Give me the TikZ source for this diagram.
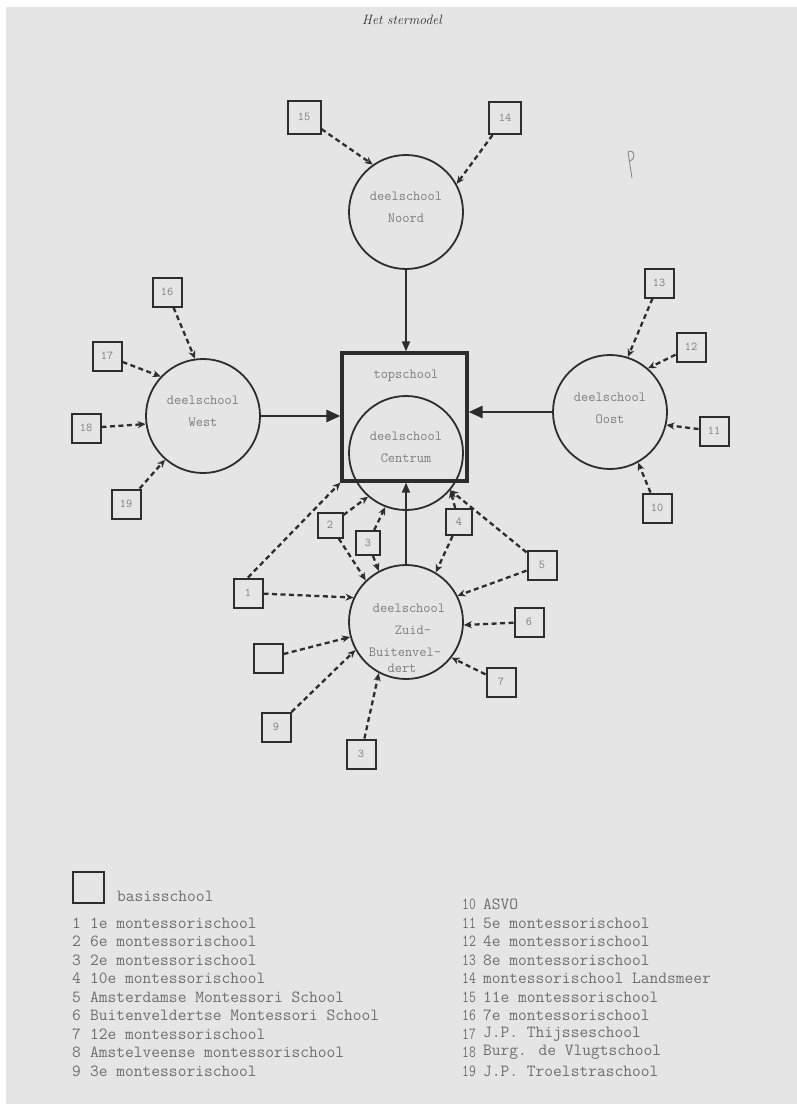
\documentclass[tikz,border=0pt]{standalone}
\usetikzlibrary{arrows.meta,calc}
\definecolor{pagebg}{RGB}{229,229,229}
\definecolor{ink}{RGB}{45,45,45}
\definecolor{txt}{RGB}{125,125,125}
\definecolor{legtxt}{RGB}{110,110,110}
\begin{document}
\begin{tikzpicture}[x=1pt,y=-1pt,
  deel/.style={circle,draw=ink,line width=1.8pt,minimum size=114pt,inner sep=0pt},
  basis/.style={rectangle,draw=ink,line width=2pt,minimum size=29pt,inner sep=0pt,font=\ttfamily\fontsize{12}{12}\selectfont,text=txt},
  dep/.style={draw=ink,line width=2.3pt,dash pattern=on 5pt off 3.5pt,-{Stealth[length=8pt,width=7pt]}},
  mainthin/.style={draw=ink,line width=1.6pt,-{Triangle[length=10pt,width=8pt]}},
  mainthick/.style={draw=ink,line width=2.6pt,-{Triangle[length=14pt,width=12pt]}},
  lbl/.style={font=\ttfamily\fontsize{14}{22}\selectfont,text=txt,align=center,inner sep=0pt},
  leg/.style={font=\ttfamily\fontsize{17}{18}\selectfont,text=legtxt,anchor=west,inner sep=0pt},
]
% page
\useasboundingbox (0,0) rectangle (797,1104);
\fill[white] (0,0) rectangle (797,1104);
\fill[pagebg] (6,7) rectangle (797,1104);

% title
\node[font=\itshape\fontsize{13.5}{15}\selectfont,text=ink] (title) at (402,20) {Het stermodel};

% pencil mark
\draw[gray,line width=0.8pt] (628,152) -- (632,178);
\draw[gray,line width=0.8pt] (628,152) .. controls (634,148) and (637,158) .. (630,161);

% main nodes
\node[rectangle,draw=ink,line width=3.2pt,minimum width=125pt,minimum height=128pt,inner sep=0pt] (top) at (404.5,417) {};
\node[lbl] (toptxt) at (406,376) {topschool};
\node[deel] (centrum) at (406,453) {};
\node[lbl] (centrumtxt) at (406,447) {deelschool\\Centrum};
\node[deel] (noord) at (406,212) {};
\node[lbl] (noordtxt) at (406,207.5) {deelschool\\Noord};
\node[deel] (west) at (203,416) {};
\node[lbl] (westtxt) at (203,411.5) {deelschool\\West};
\node[deel] (oost) at (610,412) {};
\node[lbl] (oosttxt) at (610,408) {deelschool\\Oost};
\node[deel] (zuid) at (406,622) {};
\node[lbl] (zuid1) at (409,608) {deelschool};
\node[lbl] (zuid2) at (413,630) {Zuid-};
\node[lbl] (zuid3) at (405,652) {Buitenvel-};
\node[lbl] (zuid4) at (402,668) {dert};

% main arrows
\draw[mainthin] (noord.south) -- (noord.south |- top.north);
\draw[mainthin] (zuid.north) -- (zuid.north |- top.south);
\draw[mainthick] (west.east) -- (west.east -| top.west);
\draw[mainthick] (oost.west) -- (oost.west -| top.east);

% basisscholen
\node[basis,minimum size=33pt] (b15) at (304,117) {15};
\node[basis,minimum size=32pt] (b14) at (505,118) {14};
\node[basis] (b16) at (167,292) {16};
\node[basis] (b17) at (107,356) {17};
\node[basis] (b18) at (86,428) {18};
\node[basis] (b19) at (126,504) {19};
\node[basis] (b13) at (659,283) {13};
\node[basis] (b12) at (691,347) {12};
\node[basis] (b11) at (714,431) {11};
\node[basis] (b10) at (657,508) {10};
\node[basis] (b1) at (248,593) {1};
\node[basis,minimum size=25pt] (b2) at (330,525) {2};
\node[basis,minimum size=24pt] (b3) at (368,543) {3};
\node[basis,minimum size=26pt] (b4) at (459,522) {4};
\node[basis] (b5) at (542,565) {5};
\node[basis] (b6) at (529,622) {6};
\node[basis] (b7) at (501,682) {7};
\node[basis] (b8) at (268,658) {};
\node[basis] (b9) at (276,727) {9};
\node[basis] (b8b) at (361,754) {3};

% dashed connectors
\draw[dep] (b15) -- (noord.125);
\draw[dep] (b14) -- (noord.29);
\draw[dep] (b16) -- (west.98);
\draw[dep] (b17) -- (west.137);
\draw[dep] (b18) -- (west.188);
\draw[dep] (b19) -- (west.229);
\draw[dep] (b13) -- (oost.72);
\draw[dep] (b12) -- (oost.49);
\draw[dep] (b11) -- (oost.347);
\draw[dep] (b10) -- (oost.299);
\draw[dep] (b1) -- (zuid.155);
\draw[dep] (b1.north) -- (top.south west);
\draw[dep] (b2) -- (zuid.134);
\draw[dep] (b2) -- (centrum.229);
\draw[dep] (b3) -- (zuid.118);
\draw[dep] (b3) -- (centrum.249);
\draw[dep] (b4) -- (zuid.59);
\draw[dep] (b4) -- (centrum.320);
\draw[dep] (b5) -- (zuid.27);
\draw[dep] (b5) -- (centrum.320);
\draw[dep] (b6) -- (zuid.357);
\draw[dep] (b7) -- (zuid.322);
\draw[dep] (b8) -- (zuid.195);
\draw[dep] (b9) -- (zuid.209);
\draw[dep] (b8b) -- (zuid.242);

% legend
\node[rectangle,draw=ink,line width=2.6pt,minimum size=31pt,inner sep=0pt] (legbox) at (88.5,887.5) {};
\node[leg] (legbasis) at (117,896) {basisschool};
\foreach \n/\t [count=\i] in {1/1e montessorischool,2/6e montessorischool,3/2e montessorischool,4/10e montessorischool,5/Amsterdamse Montessori School,6/Buitenveldertse Montessori School,7/12e montessorischool,8/Amstelveense montessorischool,9/3e montessorischool}{
  \node[leg] (ln\n) at (72,{923+(\i-1)*18.5}) {\n};
  \node[leg] (lt\n) at (90,{923+(\i-1)*18.5}) {\t};
}
\foreach \n/\t [count=\i] in {10/ASVO,11/5e montessorischool,12/4e montessorischool,13/8e montessorischool,14/montessorischool Landsmeer,15/11e montessorischool,16/7e montessorischool,17/J.P. Thijsseschool,18/Burg. de Vlugtschool,19/J.P. Troelstraschool}{
  \node[leg] (ln\n) at (462,{904.5+(\i-1)*18.5}) {\scalebox{0.78}[1]{\n}};
  \node[leg] (lt\n) at (483,{904.5+(\i-1)*18.5}) {\t};
}
\end{tikzpicture}
\end{document}
